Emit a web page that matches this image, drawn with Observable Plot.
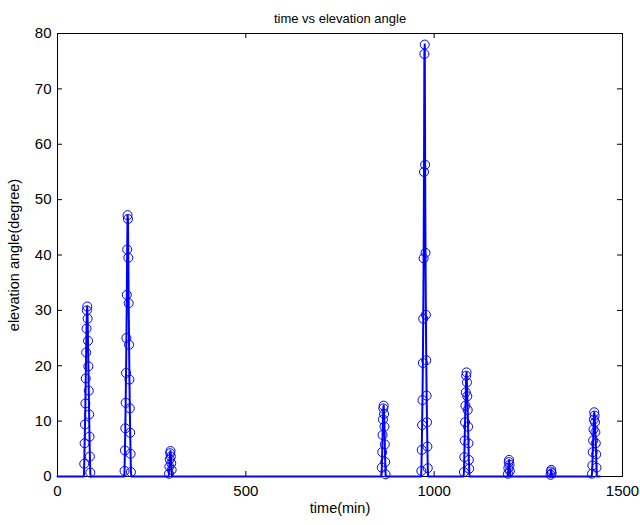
<!DOCTYPE html>
<html><head><meta charset="utf-8">
<script src="https://cdn.jsdelivr.net/npm/d3@7"></script>
<script src="https://cdn.jsdelivr.net/npm/@observablehq/plot@0.6"></script>
<style>body{margin:0;background:#fff;} svg{display:block;}</style>
</head><body><div id="chart"></div>
<script>
// ---- data ----
const xTicks = [0, 500, 1000, 1500];
const yTicks = [0, 10, 20, 30, 40, 50, 60, 70, 80];
const dayStart = 0, dayEnd = 1440;          // minutes covered by the series
const passStarts = [71, 178, 296, 861, 966, 1079, 1196, 1309, 1419]; // minute of first sample of each pass
const pass1 = [2.3, 6.0, 9.4, 13.2, 17.7, 22.4, 26.7, 30.0, 30.7, 28.5, 24.5, 19.9, 15.5, 11.2, 7.2, 3.6, 0.7];
const pass2 = [1.0, 4.7, 8.7, 13.3, 18.7, 25.0, 32.8, 41.0, 47.2, 46.5, 39.5, 31.3, 23.8, 17.5, 12.3, 7.9, 4.1, 0.8];
const pass3 = [0.5, 1.8, 3.1, 4.2, 4.6, 3.6, 2.4, 1.2];
const pass4 = [1.6, 4.4, 7.5, 10.3, 12.3, 12.8, 11.3, 9.0, 5.8, 2.6, 0.4];
const pass5 = [1.0, 4.8, 9.3, 13.8, 20.5, 28.5, 39.4, 55.0, 76.3, 78.0, 56.3, 40.4, 29.2, 21.0, 14.6, 9.8, 5.4, 1.5];
const pass6 = [0.8, 3.5, 6.5, 9.8, 12.8, 15.2, 18.2, 18.8, 17.0, 14.5, 12.0, 9.0, 6.0, 3.0, 1.4];
const pass7 = [0.5, 1.5, 2.6, 3.0, 2.1, 1.0];
const pass8 = [0.3, 0.9, 1.2, 0.6];
const pass9 = [0.5, 2.0, 4.4, 6.5, 8.5, 10.3, 11.6, 11.0, 9.8, 8.0, 6.0, 4.0, 1.6];
const passes = [pass1, pass2, pass3, pass4, pass5, pass6, pass7, pass8, pass9];

// ---- build tables ----
const points = [];
const lineData = [{t: dayStart, e: 0}];
passes.forEach((vals, i) => {
  const s = passStarts[i];
  lineData.push({t: s - 1, e: 0});
  vals.forEach((v, j) => { points.push({t: s + j, e: v}); lineData.push({t: s + j, e: v}); });
  lineData.push({t: s + vals.length, e: 0});
});
lineData.push({t: dayEnd, e: 0});

const W = 640, H = 525, mL = 57, mR = 18, mT = 33, mB = 49;
const pw = W - mL - mR, ph = H - mT - mB, tl = 5;
const font = "Liberation Sans, Arial, Helvetica, sans-serif";

const chart = Plot.plot({
  width: W, height: H,
  marginLeft: mL, marginRight: mR, marginTop: mT, marginBottom: mB,
  style: {fontFamily: font, background: "#fff", color: "#000"},
  x: {domain: [0, 1500], axis: null},
  y: {domain: [0, 80], axis: null},
  marks: [
    Plot.frame({stroke: "#000", strokeWidth: 1}),
    // inward ticks on all four sides
    Plot.tickY(yTicks, {y: d => d, stroke: "#000", insetRight: pw - tl}),
    Plot.tickY(yTicks, {y: d => d, stroke: "#000", insetLeft: pw - tl}),
    Plot.tickX(xTicks, {x: d => d, stroke: "#000", insetTop: ph - tl}),
    Plot.tickX(xTicks, {x: d => d, stroke: "#000", insetBottom: ph - tl}),
    Plot.axisX(xTicks, {tickSize: 0, tickPadding: 9, fontSize: 15, label: null, tickFormat: d => String(d)}),
    Plot.axisY(yTicks, {tickSize: 0, tickPadding: 6, fontSize: 15, label: null, tickFormat: d => String(d)}),
    // data
    Plot.line(lineData, {x: "t", y: "e", stroke: "#0000ff", strokeWidth: 2}),
    Plot.dot(points, {x: "t", y: "e", r: 4.5, stroke: "#0000ff", strokeWidth: 1, fill: "none"}),
    // texts
    Plot.text(["time vs elevation angle"], {frameAnchor: "top", dy: -20, fontSize: 13, fill: "#000"}),
    Plot.text(["time(min)"], {frameAnchor: "bottom", dy: 36, fontSize: 14.5, fill: "#000"}),
    Plot.text(["elevation angle(degree)"], {frameAnchor: "left", textAnchor: "middle", dx: -43, rotate: -90, fontSize: 14.5, fill: "#000"})
  ]
});
document.getElementById("chart").appendChild(chart);
</script>
</body></html>
